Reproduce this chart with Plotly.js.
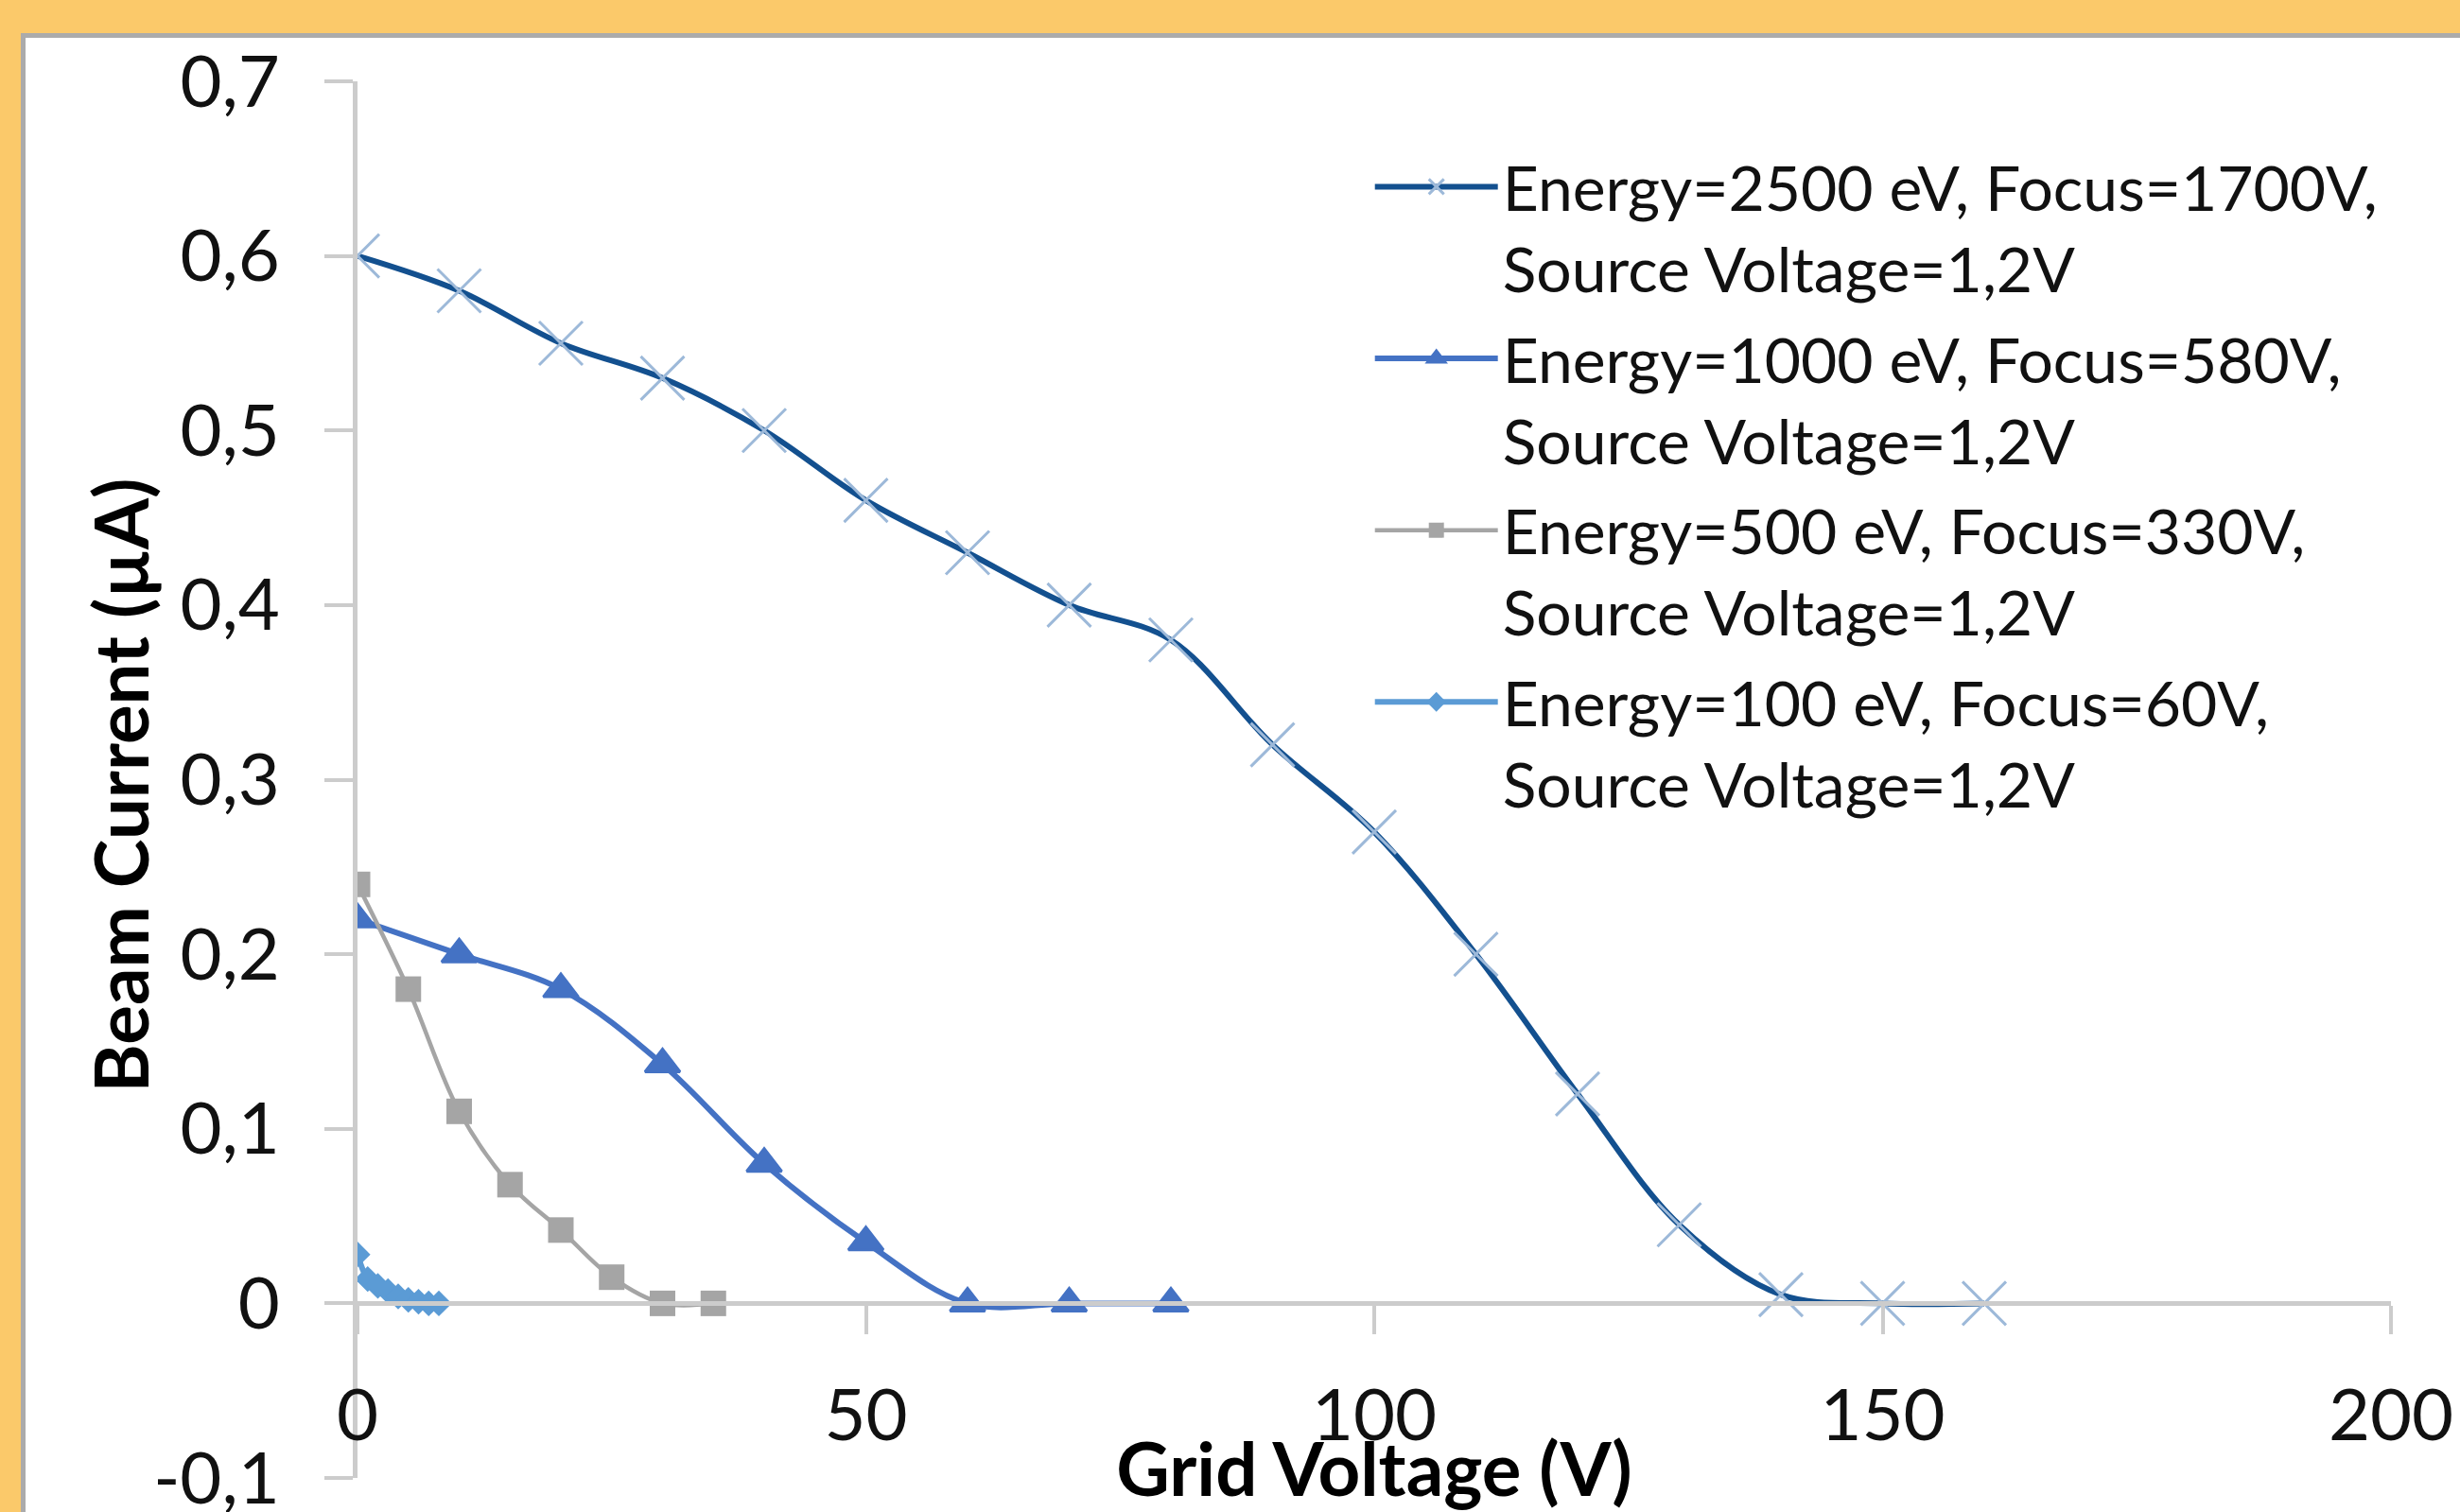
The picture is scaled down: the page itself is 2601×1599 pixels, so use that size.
<!DOCTYPE html>
<html><head><meta charset="utf-8">
<script src="https://cdn.plot.ly/plotly-3.0.1.min.js"></script>
<style>
html,body{margin:0;padding:0;background:#FBC96A;width:2601px;height:1599px;overflow:hidden;}
#frame{position:absolute;left:22px;top:35px;width:2579px;height:1564px;background:#ABABAB;}
#chart{position:absolute;left:27px;top:40px;width:2574px;height:1559px;background:#fff;}
</style></head><body>
<div id="frame"></div><div id="chart"></div>
<script>
// ---- data ----
const seriesNames = [
  'Energy=2500 eV, Focus=1700V,<br>Source Voltage=1,2V',
  'Energy=1000 eV, Focus=580V,<br>Source Voltage=1,2V',
  'Energy=500 eV, Focus=330V,<br>Source Voltage=1,2V',
  'Energy=100 eV, Focus=60V,<br>Source Voltage=1,2V'
];
const x2500 = [0,10,20,30,40,50,60,70,80,90,100,110,120,130,140,150,160];
const y2500 = [0.60,0.58,0.55,0.53,0.50,0.46,0.43,0.40,0.38,0.32,0.27,0.20,0.12,0.045,0.005,0,0];
const x1000 = [0,10,20,30,40,50,60,70,80];
const y1000 = [0.22,0.20,0.18,0.137,0.08,0.035,0,0,0];
const x500 = [0,5,10,15,20,25,30,35];
const y500 = [0.24,0.18,0.11,0.068,0.042,0.015,0,0];
const x100 = [0,1,2,3,4,5,6,7,8];
const y100 = [0.028,0.014,0.010,0.007,0.004,0.002,0.001,0,0];

const xTickVals = [0,50,100,150,200];
const xTickText = ['0','50','100','150','200'];
const yTickVals = [-0.1,0,0.1,0.2,0.3,0.4,0.5,0.6,0.7];
const yTickText = ['-0,1','0','0,1','0,2','0,3','0,4','0,5','0,6','0,7'];

const xTitle = 'Grid Voltage (V)';
const yTitle = 'Beam Current (µA)';

// ---- traces ----
const traces = [
  {x:x2500, y:y2500, name:seriesNames[0], legendgroup:'g1', mode:'lines+markers',
   line:{color:'#13508F', width:6, shape:'spline', smoothing:1},
   marker:{symbol:'x-thin', size:46, color:'#9DB9D9', line:{color:'#9DB9D9', width:3}}},
  {x:x1000, y:y1000, name:seriesNames[1], legendgroup:'g2', mode:'lines+markers',
   line:{color:'#4472C4', width:6, shape:'spline', smoothing:1},
   marker:{symbol:'triangle-up', size:32, color:'#4472C4', line:{color:'#4472C4', width:3}}},
  {x:x500, y:y500, name:seriesNames[2], legendgroup:'g3', mode:'lines+markers',
   line:{color:'#A5A5A5', width:4.5, shape:'spline', smoothing:1},
   marker:{symbol:'square', size:27, color:'#A5A5A5'}},
  {x:x100, y:y100, name:seriesNames[3], legendgroup:'g4', mode:'lines+markers',
   line:{color:'#5B9BD5', width:6, shape:'spline', smoothing:1},
   marker:{symbol:'diamond', size:21, color:'#5B9BD5'}}
];

const axisCol = '#CCCCCC';
const layout = {
  width:2574, height:1559,
  margin:{l:351, r:73, t:46, b:36, pad:0},
  paper_bgcolor:'#ffffff', plot_bgcolor:'#ffffff',
  font:{family:'Lato, sans-serif', size:72, color:'#111111'},
  showlegend:true,
  xaxis:{range:[0,200], tickmode:'array', tickvals:xTickVals, ticktext:xTickText,
    anchor:'free', position:0.125, showline:true, linecolor:axisCol, linewidth:5,
    ticks:'outside', ticklen:30, tickwidth:4, tickcolor:axisCol,
    showgrid:false, zeroline:false, ticklabelstandoff:20, ticklabeloverflow:'allow',
    tickfont:{size:76, family:'Lato, sans-serif', color:'#111111'},
    title:{text:xTitle, standoff:0, font:{size:78, family:'Lato, sans-serif', weight:'bold', color:'#000'}}},
  yaxis:{range:[-0.1,0.7], tickmode:'array', tickvals:yTickVals, ticktext:yTickText,
    showline:true, linecolor:axisCol, linewidth:5,
    ticks:'outside', ticklen:30, tickwidth:4, tickcolor:axisCol,
    showgrid:false, zeroline:false, ticklabelstandoff:32, ticklabeloverflow:'allow',
    tickfont:{size:76, family:'Lato, sans-serif', color:'#111111'}},
  annotations:[
    {text:yTitle, xref:'paper', yref:'paper', x:-0.1167, y:0.496, xanchor:'center', yanchor:'middle',
     textangle:-90, showarrow:false,
     font:{size:78, family:'Lato, sans-serif', weight:'bold', color:'#000'}}
  ],
  legend:{x:0.498, y:0.958, xanchor:'left', yanchor:'top', bgcolor:'rgba(0,0,0,0)',
    font:{size:66, family:'Lato, sans-serif', color:'#111111'},
    itemwidth:130, valign:'top', traceorder:'grouped', tracegroupgap:7}
};

Plotly.newPlot('chart', traces, layout, {displayModeBar:false, staticPlot:true});
</script>
</body></html>
